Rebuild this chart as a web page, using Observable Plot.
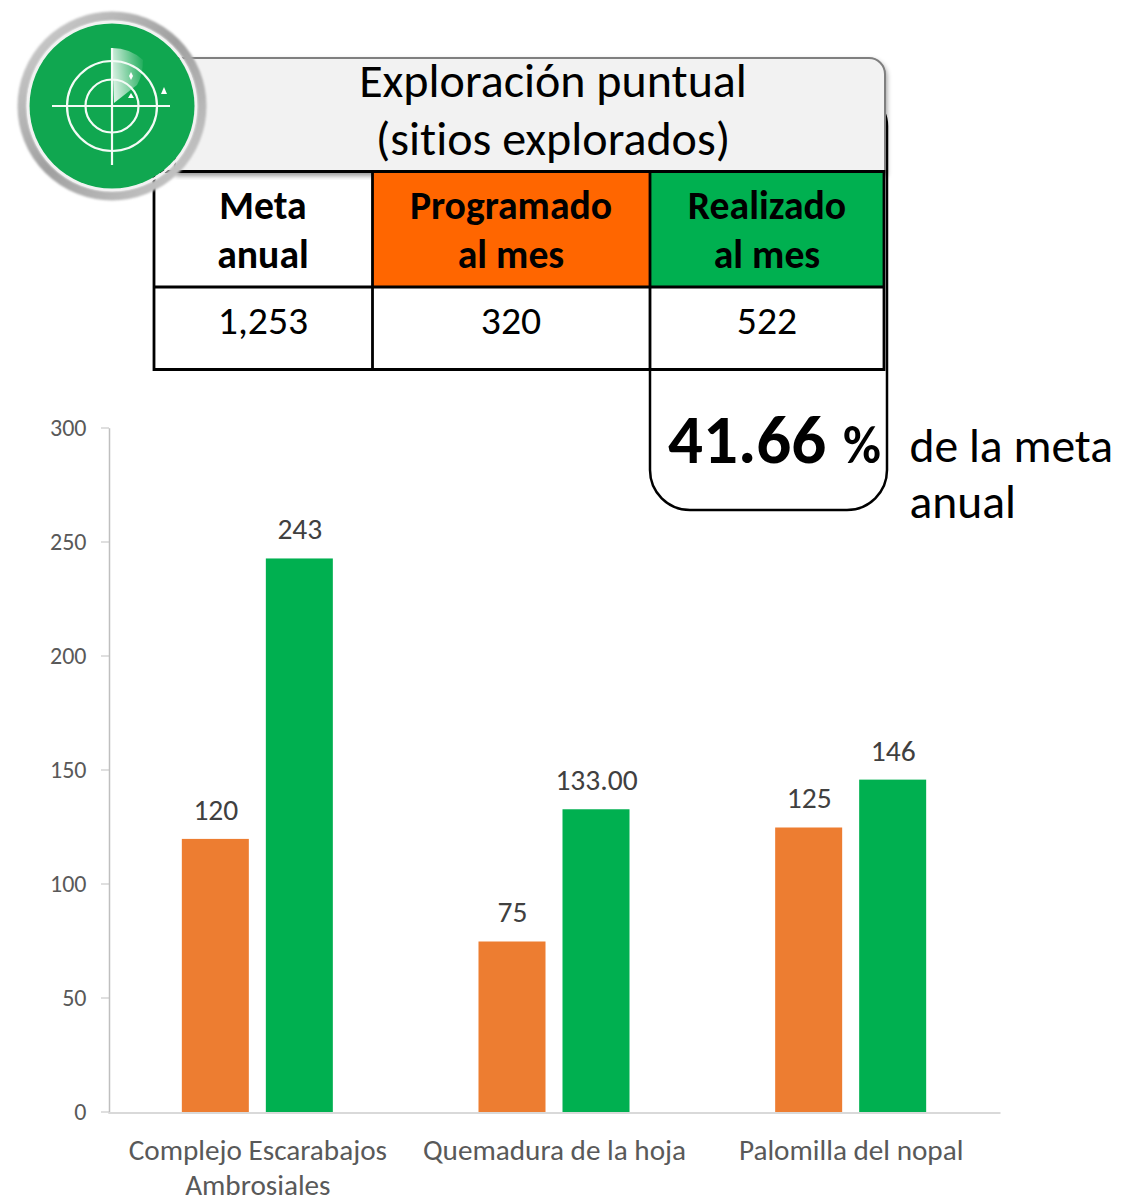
<!DOCTYPE html>
<html lang="es">
<head>
<meta charset="utf-8">
<script src="https://cdn.jsdelivr.net/npm/d3@7"></script>
<script src="https://cdn.jsdelivr.net/npm/@observablehq/plot@0.6"></script>
<style>
html,body{margin:0;padding:0;background:#fff}
#wrap{position:relative;width:1142px;height:1199px;overflow:hidden}
#wrap>svg{position:absolute;left:0;top:0;display:block;font-variant-ligatures:none}
</style>
</head>
<body>
<div id="wrap"></div>
<script>
const categories = ["Complejo Escarabajos\nAmbrosiales", "Quemadura de la hoja", "Palomilla del nopal"];
const seriesNames = ["Programado", "Realizado"];
const programado = [120, 75, 125];
const realizado = [243, 133, 146];
const programadoLabels = ["120", "75", "125"];
const realizadoLabels = ["243", "133.00", "146"];
const seriesColors = ["#ed7d31", "#00b050"];
const yTicks = [0, 50, 100, 150, 200, 250, 300];
const titleLines = ["Exploración puntual", "(sitios explorados)"];
const headerLines = [["Meta", "anual"], ["Programado", "al mes"], ["Realizado", "al mes"]];
const tableValues = ["1,253", "320", "522"];
const percentValue = "41.66";
const percentNote = ["de la meta", "anual"];

const rows = categories.flatMap((c, i) => [
  {category: c, series: seriesNames[0], value: programado[i], label: programadoLabels[i]},
  {category: c, series: seriesNames[1], value: realizado[i], label: realizadoLabels[i]}
]);

const FONT = "Carlito, Calibri, Lato, sans-serif";
const chart = Plot.plot({
  width: 1142, height: 1199,
  marginTop: 428.5, marginBottom: 86.5, marginLeft: 109, marginRight: 143,
  style: {background: "transparent", fontFamily: FONT, overflow: "visible"},
  fx: {domain: categories, padding: 0, round: false, label: null},
  x: {domain: seriesNames, paddingInner: 0.2024, paddingOuter: 0.867, round: false, axis: null},
  y: {domain: [0, 300], label: null},
  color: {domain: seriesNames, range: seriesColors},
  marks: [
    Plot.axisY({ticks: yTicks, tickSize: 8, tickPadding: 15, dy: -1, stroke: "#bfbfbf", fontSize: 24, label: null, fill: "#595959"}),
    Plot.axisFx({anchor: "bottom", label: null, tickSize: 0, tickPadding: 22.5, fontSize: 29.2, lineHeight: 1.2, fill: "#595959", lineAnchor: "top", textOverflow: null, lineWidth: Infinity}),
    Plot.barY(rows, {fx: "category", x: "series", y: "value", fill: "series"}),
    Plot.frame({anchor: "left", stroke: "#bfbfbf", strokeWidth: 1.5, facet: "super"}),
    Plot.frame({anchor: "bottom", stroke: "#d9d9d9", strokeWidth: 2, facet: "super"}),
    Plot.text(rows, {fx: "category", x: "series", y: "value", text: "label", dy: -29, fontSize: 29.5, fill: "#404040"})
  ]
});
document.getElementById("wrap").appendChild(chart);

const colX = [154, 372, 650, 884];
const colMid = [263, 511, 767];
const colors = [null, "#ff6600", "#00b050"];
let s = `<svg xmlns="http://www.w3.org/2000/svg" width="1142" height="1199" font-family="${FONT}" fill="#000">
<defs>
<filter id="sh" x="-5%" y="-10%" width="110%" height="125%"><feDropShadow dx="1" dy="3" stdDeviation="2.5" flood-color="#000" flood-opacity=".4"/></filter>
<filter id="soft" x="-10%" y="-10%" width="120%" height="120%"><feGaussianBlur stdDeviation="1.2"/></filter>
<linearGradient id="ring" x1="0" y1="0" x2="1" y2="1"><stop offset="0" stop-color="#d2d2d2"/><stop offset=".5" stop-color="#a0a0a0"/><stop offset="1" stop-color="#cdcdcd"/></linearGradient>
<linearGradient id="wedge" x1="0" y1="0.5" x2="1" y2="0.3"><stop offset="0" stop-color="#fff" stop-opacity=".85"/><stop offset="1" stop-color="#fff" stop-opacity=".08"/></linearGradient>
</defs>
<path d="M884 112Q887 118 887 126V470A40 40 0 0 1 847 510H690A40 40 0 0 1 650 470V370" fill="none" stroke="#000" stroke-width="2.5"/>
<path d="M175 58H869A16 16 0 0 1 885 74V172H175Z" fill="#f2f2f2" stroke="#7f7f7f" stroke-width="2" filter="url(#sh)"/>`;
s += `<rect x="156" y="180" width="215" height="188" fill="#fff"/><rect x="652" y="288" width="231" height="80" fill="#fff"/><rect x="374" y="288" width="275" height="80" fill="#fff"/>`;
titleLines.forEach((t, i) => { s += `<text x="553" y="${97 + i * 57.5}" text-anchor="middle" font-size="48">${t}</text>`; });
colors.forEach((c, i) => { if (c) s += `<rect x="${colX[i]}" y="172" width="${colX[i + 1] - colX[i]}" height="115" fill="${c}"/>`; });
headerLines.forEach((l, i) => l.forEach((t, j) => {
  s += `<text x="${colMid[i]}" y="${218.5 + j * 49}" text-anchor="middle" font-size="39.7" font-weight="700">${t}</text>`;
}));
tableValues.forEach((t, i) => { s += `<text x="${colMid[i]}" y="334" text-anchor="middle" font-size="39.7">${t}</text>`; });
s += `<path d="M154 171.5H884V369.5H154ZM154 287H884M372.5 171V370M650 171V370" fill="none" stroke="#000" stroke-width="2.8"/>`;
s += `<text x="668" y="463" font-size="69" font-weight="700">${percentValue}</text><text x="843" y="463" font-size="52" font-weight="700">%</text>`;
percentNote.forEach((t, i) => { s += `<text x="909.5" y="${461.5 + i * 56}" font-size="47.6">${t}</text>`; });
s += `<g>
<circle cx="112" cy="106" r="90" fill="none" stroke="url(#ring)" stroke-width="9" filter="url(#soft)"/>
<circle cx="112" cy="106" r="84" fill="none" stroke="#f2f2f2" stroke-width="2.5"/>
<circle cx="112" cy="106" r="82.5" fill="#10a750"/>
<path d="M112 48Q130 48 143 60Q143 75 137 85L114 103Z" fill="url(#wedge)"/>
<g fill="none" stroke="#f4fbf6" stroke-width="2.2">
<circle cx="112" cy="106" r="45"/><circle cx="112" cy="106" r="26.5"/>
<path d="M52 106H170M112 48V165"/></g>
<g fill="#fff"><path d="M131 72L133 76L131 80L129 76Z"/><path d="M131 93L134 98H128Z"/><path d="M164 87L167 94H161Z"/></g>
</g></svg>`;
document.getElementById("wrap").insertAdjacentHTML("beforeend", s);
</script>
</body>
</html>
